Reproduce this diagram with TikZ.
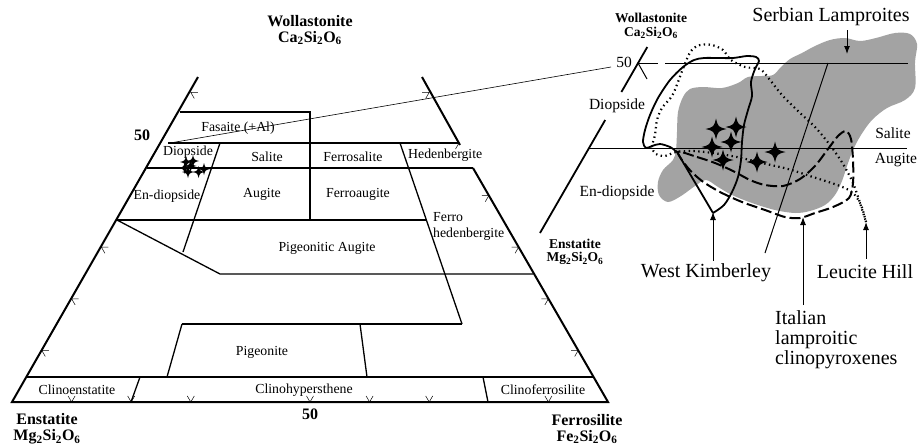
\documentclass[tikz,border=0pt]{standalone}
\usepackage{fontspec}
\setmainfont{Liberation Serif}
\usetikzlibrary{arrows.meta}
\definecolor{blobgrey}{RGB}{163,163,163}
\newcommand\pstar[3]{\fill[shift={(#1,#2)}] (0,-#3) .. controls (0.2*#3,-0.2*#3) .. (#3,0) .. controls (0.2*#3,0.2*#3) .. (0,#3) .. controls (-0.2*#3,0.2*#3) .. (-#3,0) .. controls (-0.2*#3,-0.2*#3) .. (0,-#3) -- cycle;}
\begin{document}
\begin{tikzpicture}[x=1pt,y=-1pt,
  edge/.style={line width=2pt},
  inner/.style={line width=1.3pt},
  thinl/.style={line width=0.6pt},
  tk/.style={line width=0.5pt},
  lbl/.style={font=\fontsize{13.8}{15}\selectfont, inner sep=0pt},
  blbl/.style={font=\bfseries\fontsize{16}{16}\selectfont, inner sep=0pt, align=center},
  ilbl/.style={font=\fontsize{15.5}{17}\selectfont, inner sep=0pt},
  iblbl/.style={font=\bfseries\fontsize{13.5}{13.5}\selectfont, inner sep=0pt, align=center},
  big/.style={font=\fontsize{20}{20}\selectfont, inner sep=0pt},
  arr/.style={line width=1pt, -{Latex[length=8pt,width=6pt]}},
  iedge/.style={line width=1.8pt},
  ithin/.style={line width=1pt},
  wk/.style={line width=1.8pt},
  ital/.style={line width=2pt, dash pattern=on 11pt off 4pt},
  leu/.style={line width=2.2pt, dash pattern=on 1.4pt off 3.4pt},
]
\useasboundingbox (0,0) rectangle (918,445);

% ---------------- main diagram ----------------
\draw[edge] (198,77) -- (12,402) -- (608,402) -- (473,168);
\draw[edge] (460,145) -- (422,77);
\draw[inner] (179.5,112) -- (310,112) -- (310,220);
\draw[edge] (168,143) -- (458,143);
\draw[inner] (147,168) -- (473,168);
\draw[inner] (117,220) -- (426.5,220);
\draw[inner] (220,143) -- (183,252);
\draw[inner] (117,220) -- (220,274) -- (533,274);
\draw[inner] (400,143) -- (462,324);
\draw[inner] (182,324) -- (462,324);
\draw[inner] (182,324) -- (167,377);
\draw[inner] (360,324) -- (367,377);
\draw[inner] (26.5,377) -- (593.5,377);
\draw[inner] (140,377) -- (131,402);
\draw[inner] (483,377) -- (488,402);

% ticks
\foreach \p in {(41.8,350.4),(71.6,298.8),(101.4,247.2),(190.8,92.4)}
  \draw[tk] \p ++(7,0) -- \p -- ++(3.5,6.06);
\foreach \p in {(578.2,350.4),(548.4,298.8),(518.6,247.2),(488.8,195.6),(459,143),(429.2,92.4)}
  \draw[tk] \p ++(-7,0) -- \p -- ++(-3.5,6.06);
\foreach \p in {(71.6,402),(131.2,402),(190.8,402),(310,402),(369.6,402),(429.2,402),(548.4,402)}
  \draw[tk] \p ++(-3.5,-6.06) -- \p -- ++(3.5,-6.06);

% connector to inset
\coordinate (c50L) at (170,143);
\coordinate (c50R) at (611,67);
\draw[thinl] (c50L) -- (c50R);

% main labels
\node[blbl] (wo) at (310,30) {Wollastonite\\Ca\textsubscript{2}Si\textsubscript{2}O\textsubscript{6}};
\node[blbl] (f50a) at (142,135) {50};
\node[lbl] (fas) at (238,128) {Fasaite (+Al)};
\node[lbl] (dio) at (188,152) {Diopside};
\node[lbl] (sal) at (267,157) {Salite};
\node[lbl] (fsal) at (353,157) {Ferrosalite};
\node[lbl,anchor=west] (hed) at (408,155) {Hedenbergite};
\node[lbl] (endi) at (167,196) {En-diopside};
\node[lbl] (aug) at (262,194) {Augite};
\node[lbl] (faug) at (358,194) {Ferroaugite};
\node[lbl,anchor=west] (fh1) at (433,217) {Ferro};
\node[lbl,anchor=west] (fh2) at (433,234) {hedenbergite};
\node[lbl] (pigaug) at (327,248) {Pigeonitic Augite};
\node[lbl] (pig) at (262,352) {Pigeonite};
\node[lbl] (cen) at (77,390) {Clinoenstatite};
\node[lbl] (chy) at (304,390) {Clinohypersthene};
\node[lbl] (cfs) at (543,390) {Clinoferrosilite};
\node[blbl] (f50b) at (310,414) {50};
\node[blbl] (en) at (47,429) {Enstatite\\Mg\textsubscript{2}Si\textsubscript{2}O\textsubscript{6}};
\node[blbl] (fs) at (587,429) {Ferrosilite\\Fe\textsubscript{2}Si\textsubscript{2}O\textsubscript{6}};

% main stars
\pstar{186}{162}{6}
\pstar{193}{161}{6}
\pstar{190.6}{166}{6}
\pstar{184.8}{168}{6}
\pstar{188}{172}{6}
\pstar{198.6}{172}{6}
\pstar{204}{169}{6}

% ---------------- inset ----------------
\fill[blobgrey] plot[smooth cycle, tension=0.55] coordinates {
 (683,97) (690,89) (703,87) (722,88) (738,83) (748,77) (762,76) (773,75) (781,67)
 (790,59) (802,53) (815,46) (830,40) (845,38) (860,41) (876,38) (895,33) (910,34)
 (917,44) (915,62) (915,88) (905,100) (887,108) (872,120) (861,135) (853,150)
 (847,166) (842,181) (835,195) (825,205) (810,211) (795,213) (775,210) (752,203)
 (732,195) (718,187) (706,180) (695,186) (681,196) (668,202) (659,195) (658,182)
 (663,170) (673,160) (676,150) (677,132) (678,112)};

\draw[iedge] (647.3,47) -- (621.4,92);
\draw[iedge] (605.2,120) -- (540,233);
\draw[ithin] (637,63) -- (658,63);
\draw[ithin] (665,63) -- (908,63);
\draw[ithin] (638,63) -- (647,79);
\draw[ithin] (589,148) -- (907,148);
\draw[ithin] (828,63) -- (765,253);

% Leucite Hill dotted
\draw[leu] plot[smooth, tension=0.5] coordinates {
 (866,222) (861,205) (853,193) (840,186) (813,177) (788,169) (762,163) (737,157)
 (713,153) (693,151) (676,152) (665,156) (656,154) (652,147) (655,135) (657,120)
 (662,108) (672,96) (678,82) (684,66) (691,51) (700,45) (712,45) (723,50) (731,60)
 (745,67) (760,69) (770,80) (782,95) (799,112) (815,127) (830,145) (843,164)
 (853,183) (860,203) (866,222)};

% Italian dashed
\draw[ital] plot[smooth cycle, tension=0.5] coordinates {
 (678,152) (697,157) (715,163) (733,171) (750,180) (765,185) (783,186) (800,179)
 (815,166) (828,149) (838,136) (846,131) (851,139) (853,160) (853,183) (849,198)
 (833,207) (815,213) (800,218) (785,217) (765,210) (742,202) (720,192) (702,181)
 (688,168)};

% West Kimberley solid
\draw[wk] plot[smooth, tension=0.5] coordinates {
 (713,213) (724,205) (732,192) (738,177) (741,160) (742,142) (744,125) (748,110)
 (752,96) (751,82) (755,69) (759,61) (756,57) (747,56) (733,58) (718,58) (704,58)
 (694,60) (683,67) (670,80) (658,98) (650,115) (645,130) (643,142) (646,148)
 (652,146) (660,144) (670,147) (677,152)} -- (713,213);

% inset stars
\pstar{716}{129}{10.5}
\pstar{736}{127}{10.5}
\pstar{731}{142}{10.5}
\pstar{712}{147}{10.5}
\pstar{723}{160}{10.5}
\pstar{757}{162}{10.5}
\pstar{775}{152}{10.5}

% inset labels
\node[iblbl] (iwo) at (651,26) {Wollastonite\\Ca\textsubscript{2}Si\textsubscript{2}O\textsubscript{6}};
\node[ilbl] (i50) at (624,62) {50};
\node[ilbl] (idio) at (617,106) {Diopside};
\node[ilbl] (iendi) at (617,193) {En-diopside};
\node[iblbl] (ien) at (575,252) {Enstatite\\Mg\textsubscript{2}Si\textsubscript{2}O\textsubscript{6}};
\node[ilbl] (isal) at (893,133) {Salite};
\node[ilbl] (iaug) at (896,160) {Augite};

\node[big] (serb) at (831,17) {Serbian Lamproites};
\node[big] (wkl) at (706,273) {West Kimberley};
\node[big] (leul) at (865,272) {Leucite Hill};
\node[big,anchor=north west,align=left,font=\fontsize{20}{20}\selectfont] (itl) at (775,310) {Italian\\lamproitic\\clinopyroxenes};

\coordinate (serbTip) at (847,54);
\coordinate (serbTop) at (847,30);
\coordinate (wkTip) at (713,212);
\coordinate (itTip) at (803,217);
\coordinate (itBot) at (803,305);
\coordinate (leuTip) at (866,222);

\draw[arr] (serbTop) -- (serbTip);
\draw[arr] (wkl.north -| wkTip) ++(0,-3) -- (wkTip);
\draw[arr] (itBot) -- (itTip);
\draw[arr] (leul.north -| leuTip) ++(0,-6) -- (leuTip);
\end{tikzpicture}
\end{document}
